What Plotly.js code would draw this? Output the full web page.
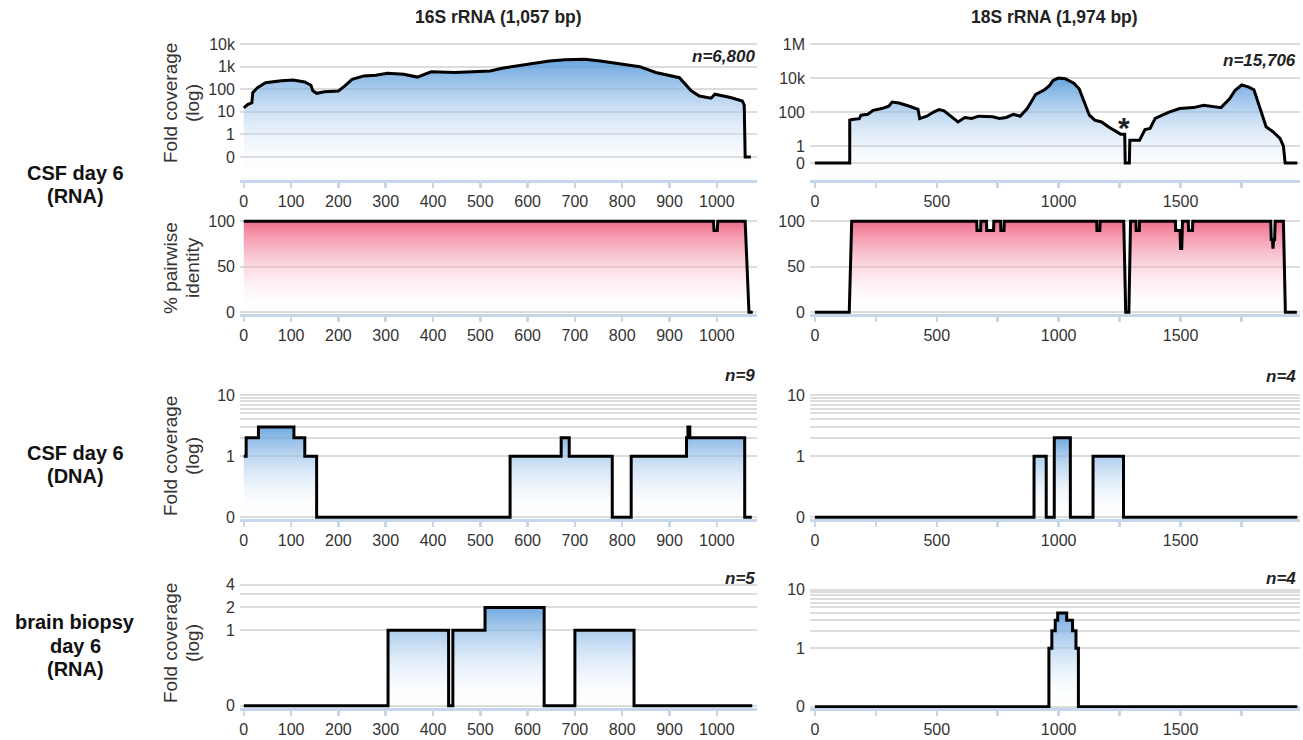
<!DOCTYPE html>
<html>
<head>
<meta charset="utf-8">
<script src="https://cdn.plot.ly/plotly-3.0.1.min.js"></script>
<style>html,body{margin:0;padding:0;background:#fff;}#chart{width:1303px;height:740px;}</style>
</head>
<body>
<div id="chart"></div>
<script>
// ---------------- DATA ----------------
// 16S rRNA, CSF day 6 (RNA) fold coverage
var cov16S_x = [0, 8, 17, 19, 29, 46, 79, 104, 129, 142, 146, 154, 171, 200, 213, 229, 254, 279, 304, 338, 367, 396, 446, 504, 521, 546, 596, 646, 679, 721, 754, 796, 837, 871, 921, 946, 963, 988, 996, 1029, 1054, 1058, 1060, 1072];
var cov16S_y = [15, 21, 25, 70, 118, 195, 235, 257, 210, 150, 85, 66, 78, 84, 138, 275, 390, 415, 510, 460, 345, 590, 550, 630, 645, 850, 1260, 1780, 2000, 2140, 1780, 1380, 1000, 550, 325, 85, 50, 40, 60, 43, 30, 20, 0, 0];
// 18S rRNA, CSF day 6 (RNA) fold coverage
var cov18S_x = [0, 143, 143, 153, 182, 189, 217, 239, 274, 303, 317, 345, 388, 423, 430, 459, 487, 509, 530, 558, 587, 615, 643, 672, 729, 757, 785, 814, 842, 871, 906, 942, 963, 977, 999, 1027, 1062, 1084, 1105, 1126, 1148, 1176, 1205, 1240, 1254, 1271, 1273, 1290, 1292, 1332, 1354, 1375, 1396, 1425, 1453, 1496, 1553, 1595, 1638, 1666, 1702, 1723, 1751, 1780, 1801, 1830, 1851, 1879, 1908, 1922, 1929, 1979];
var cov18S_y = [0, 0, 33, 36, 41, 65, 74, 126, 160, 219, 390, 340, 219, 145, 41, 57, 100, 138, 117, 57, 26, 48, 42, 57, 52, 42, 48, 74, 57, 160, 1100, 2050, 3700, 7200, 10000, 9100, 5000, 2350, 390, 65, 33, 26, 13, 7, 5, 5, 0, 0, 2.2, 2.2, 9.4, 10.7, 42, 65, 100, 160, 182, 250, 219, 182, 620, 1860, 4000, 2950, 2050, 100, 13.5, 7, 2.8, 1, 0, 0];
// % pairwise identity
var id16S_x = [0, 993, 994, 1001, 1002, 1060, 1068, 1076];
var id16S_y = [100, 100, 90, 90, 100, 100, 0, 0];
var id18S_x = [0, 141, 151, 664, 665, 680, 681, 704, 705, 733, 734, 762, 763, 776, 777, 1156, 1157, 1169, 1170, 1267, 1275, 1288, 1295, 1317, 1318, 1331, 1332, 1479, 1480, 1498, 1500, 1505, 1508, 1532, 1533, 1549, 1550, 1870, 1872, 1877, 1879, 1882, 1886, 1888, 1922, 1930, 1977];
var id18S_y = [0, 0, 100, 100, 90, 90, 100, 100, 90, 90, 100, 100, 90, 90, 100, 100, 90, 90, 100, 100, 0, 0, 100, 100, 90, 90, 100, 100, 90, 90, 70, 70, 100, 100, 90, 90, 100, 100, 80, 80, 70, 80, 80, 100, 100, 0, 0];
// CSF day 6 (DNA) step coverage
var dna16S_x = [0, 5, 31, 106, 129, 154, 563, 671, 688, 779, 819, 936, 939, 943, 1059, 1074];
var dna16S_y = [1, 2, 3, 2, 1, 0, 1, 2, 1, 0, 1, 2, 3, 2, 0, 0];
var dna18S_x = [0, 899, 949, 982, 1048, 1141, 1266, 1979];
var dna18S_y = [0, 1, 0, 2, 0, 1, 0, 0];
// brain biopsy day 6 (RNA) step coverage
var brain16S_x = [0, 305, 433, 442, 510, 635, 700, 825, 1075];
var brain16S_y = [0, 1, 0, 1, 2, 0, 1, 0, 0];
var brain18S_x = [0, 960, 972, 986, 996, 1033, 1057, 1071, 1081, 1979];
var brain18S_y = [0, 1, 2, 3, 4, 3, 2, 1, 0, 0];
// labels
var colTitles = ['16S rRNA (1,057 bp)', '18S rRNA (1,974 bp)'];
var rowLabels = [['CSF day 6', '(RNA)'], ['CSF day 6', '(DNA)'], ['brain biopsy', 'day 6', '(RNA)']];
var yTitles = [['Fold coverage', '(log)'], ['% pairwise', 'identity'], ['Fold coverage', '(log)'], ['Fold coverage', '(log)']];
var nLabels = ['n=6,800', 'n=15,706', 'n=9', 'n=4', 'n=5', 'n=4'];
var tick16S = [0, 100, 200, 300, 400, 500, 600, 700, 800, 900, 1000];
var tick18S = [0, 250, 500, 750, 1000, 1250, 1500, 1750];
var tick18SText = ['0', '', '500', '', '1000', '', '1500', ''];
var yTicksTop16S = [0.1, 1, 10, 100, 1000, 10000];
var yTextTop16S = ['0', '1', '10', '100', '1k', '10k'];
var yTicksTop18S = [0.1, 1, 100, 10000, 1000000];
var yTextTop18S = ['0', '1', '100', '10k', '1M'];
var yTicksSmall = [0.1, 1, 2, 3, 4, 5, 6, 7, 8, 9, 10];
var yTextSmall = ['0', '1', '', '', '', '', '', '', '', '', '10'];
var yTicksBrain16S = [0.1, 1, 2, 3, 4];
var yTextBrain16S = ['0', '1', '2', '', '4'];

// ---------------- LAYOUT HELPERS ----------------
var W = 1303, H = 740;
var ZERO = 0.1; // where a coverage of 0 is drawn on the log axes
function fx(px) { return px / W; }
function fy(py) { return 1 - py / H; }
var FONT = 'Liberation Sans, Arial, Helvetica, sans-serif';
var colPx = [[240, 757], [810, 1300]];
var rowPx = [[40, 180], [215, 314], [389, 519], [578, 708]];
var xRanges = [[-8, 1085], [-20, 1990]];

var BLUE = [[0, 'rgba(255,255,255,0)'], [1, 'rgba(84,152,218,0.9)']];
var PINK = [[0, 'rgba(255,255,255,0)'], [1, 'rgba(236,72,110,0.9)']];

var panels = [
  {r: 0, c: 0, x: cov16S_x, y: cov16S_y, log: true, yr: [-2.02, 4.18], tv: yTicksTop16S, tt: yTextTop16S, shape: 'linear', cs: BLUE},
  {r: 0, c: 1, x: cov18S_x, y: cov18S_y, log: true, yr: [-2.0, 6.24], tv: yTicksTop18S, tt: yTextTop18S, shape: 'linear', cs: BLUE},
  {r: 1, c: 0, x: id16S_x, y: id16S_y, log: false, yr: [-2, 107], tv: [0, 50, 100], tt: ['0', '50', '100'], shape: 'linear', cs: PINK},
  {r: 1, c: 1, x: id18S_x, y: id18S_y, log: false, yr: [-2, 107], tv: [0, 50, 100], tt: ['0', '50', '100'], shape: 'linear', cs: PINK},
  {r: 2, c: 0, x: dna16S_x, y: dna16S_y, log: true, yr: [-1.03, 1.1], tv: yTicksSmall, tt: yTextSmall, shape: 'hv', cs: BLUE},
  {r: 2, c: 1, x: dna18S_x, y: dna18S_y, log: true, yr: [-1.03, 1.1], tv: yTicksSmall, tt: yTextSmall, shape: 'hv', cs: BLUE},
  {r: 3, c: 0, x: brain16S_x, y: brain16S_y, log: true, yr: [-1.03, 0.69], tv: yTicksBrain16S, tt: yTextBrain16S, shape: 'hv', cs: BLUE},
  {r: 3, c: 1, x: brain18S_x, y: brain18S_y, log: true, yr: [-1.02, 1.2], tv: yTicksSmall, tt: yTextSmall, shape: 'hv', cs: BLUE}
];

var data = [];
var layout = {
  width: W, height: H, autosize: false,
  margin: {l: 0, r: 0, t: 0, b: 0},
  paper_bgcolor: '#fff', plot_bgcolor: 'rgba(0,0,0,0)',
  showlegend: false,
  font: {family: FONT, color: '#333', size: 16},
  annotations: []
};

panels.forEach(function (p, i) {
  var k = i + 1;
  var xn = 'xaxis' + (k === 1 ? '' : k), yn = 'yaxis' + (k === 1 ? '' : k);
  var xs = 'x' + (k === 1 ? '' : k), ys = 'y' + (k === 1 ? '' : k);
  var yv = p.y.map(function (v) { return p.log ? (v > 0 ? v : ZERO) : v; });
  var ymax = Math.max.apply(null, yv);
  var gStart = p.log ? Math.pow(10, p.yr[0]) : p.yr[0];
  var gStop = p.log ? ymax * 1.15 : p.yr[1];
  data.push({
    type: 'scatter', mode: 'lines', x: p.x, y: yv, xaxis: xs, yaxis: ys,
    line: {color: '#000', width: 3, shape: p.shape},
    fill: 'tozeroy',
    fillgradient: {type: 'vertical', start: gStart, stop: gStop, colorscale: p.cs},
    hoverinfo: 'skip'
  });
  layout[xn] = {
    domain: [fx(colPx[p.c][0]), fx(colPx[p.c][1])],
    range: xRanges[p.c], anchor: ys,
    showline: true, linecolor: '#c6d7e9', linewidth: 2.5,
    ticks: 'outside', ticklen: 5, tickwidth: 2.5, tickcolor: '#c6d7e9',
    tickmode: 'array',
    tickvals: p.c === 0 ? tick16S : tick18S,
    ticktext: p.c === 0 ? tick16S.map(String) : tick18SText,
    tickfont: {family: FONT, size: 16, color: '#333'},
    showgrid: false, zeroline: false, fixedrange: true
  };
  layout[yn] = {
    domain: [fy(rowPx[p.r][1]), fy(rowPx[p.r][0])],
    type: p.log ? 'log' : 'linear',
    range: p.yr, anchor: xs,
    tickmode: 'array', tickvals: p.tv, ticktext: p.tt,
    tickfont: {family: FONT, size: 16, color: '#333'},
    showgrid: true, gridcolor: '#dcdcdc', gridwidth: 2,
    showline: false, zeroline: false, ticks: '', ticklabelstandoff: 4,
    fixedrange: true
  };
});

function ann(text, px, py, opt) {
  var a = {text: text, x: fx(px), y: fy(py), xref: 'paper', yref: 'paper', showarrow: false,
    xanchor: 'center', yanchor: 'middle', font: {family: FONT, size: 16, color: '#333'}};
  for (var key in opt) a[key] = opt[key];
  layout.annotations.push(a);
}
// column titles
var colFont = {family: FONT, size: 17.5, color: '#222'};
ann('<b>' + colTitles[0] + '</b>', 498, 17, {font: colFont});
ann('<b>' + colTitles[1] + '</b>', 1054, 17, {font: colFont});
// row labels (one annotation per line for tight spacing)
var rowFont = {family: FONT, size: 20, color: '#111'};
var rowLineY = [[173, 196], [453, 476], [622, 646, 669]];
rowLabels.forEach(function (lines, r) {
  lines.forEach(function (t, j) { ann('<b>' + t + '</b>', 75, rowLineY[r][j], {font: rowFont}); });
});
// y titles (rotated, two lines each)
var yTitleFont = {family: FONT, size: 19, color: '#333'};
var yTitleCenter = [103, 268, 456, 643];
yTitles.forEach(function (lines, r) {
  ann(lines[0], 170, yTitleCenter[r], {textangle: -90, font: yTitleFont});
  ann(lines[1], 192, yTitleCenter[r], {textangle: -90, font: yTitleFont});
});
// n labels
var nFont = {family: FONT, size: 17, color: '#222'};
var nPos = [[757, 56], [1298, 60], [757, 375], [1298, 376], [757, 578], [1298, 578]];
nLabels.forEach(function (t, i) {
  ann('<b><i>' + t + '</i></b>', nPos[i][0], nPos[i][1], {xanchor: 'right', font: nFont});
});
// asterisk
ann('<b>*</b>', 1124, 127, {font: {family: FONT, size: 30, color: '#222'}});

Plotly.newPlot('chart', data, layout, {staticPlot: true, displayModeBar: false});
</script>
</body>
</html>
